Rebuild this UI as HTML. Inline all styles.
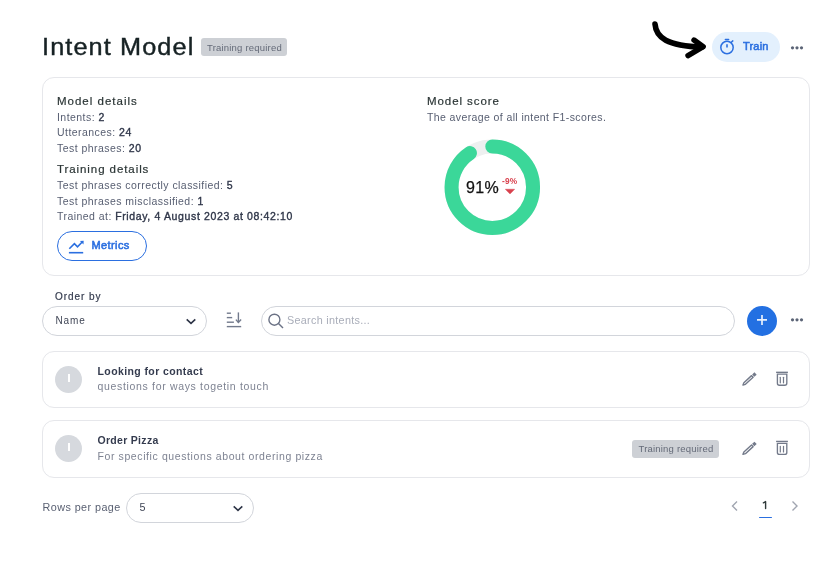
<!DOCTYPE html>
<html><head><meta charset="utf-8">
<style>
html,body{margin:0;padding:0;background:#fff;width:831px;height:566px;overflow:hidden;}
body{font-family:"Liberation Sans",sans-serif;position:relative;will-change:transform;}
.a{position:absolute;white-space:nowrap;line-height:1;}
.box{position:absolute;box-sizing:border-box;}
b{font-weight:700;}
</style></head><body>

<!-- Title -->
<div class="a" id="title" style="left:42px;top:36.3px;font-size:23px;letter-spacing:1px;color:#172224;-webkit-text-stroke:0.4px #172224;transform:scaleX(1.1);transform-origin:0 0;">Intent Model</div>
<div class="box" style="left:201px;top:38px;width:86px;height:17.5px;background:#cdd0d5;border-radius:3px;"></div>
<div class="a" style="left:207px;top:42.7px;font-size:9.5px;color:#646a78;letter-spacing:0.2px;">Training required</div>

<!-- arrow -->
<svg class="box" style="left:0;top:0" width="831" height="80" viewBox="0 0 831 80">
  <path d="M655,24 C656,37.5 667,46 702,47" fill="none" stroke="#000" stroke-width="5.6" stroke-linecap="round"/>
  <path d="M694,40 L703.2,46.7 L688,55.6" fill="none" stroke="#000" stroke-width="5.4" stroke-linecap="round" stroke-linejoin="round"/>
</svg>

<!-- Train button -->
<div class="box" style="left:712px;top:32px;width:68px;height:30px;background:#e3f0fd;border-radius:15px;"></div>
<svg class="box" style="left:718px;top:37px" width="18" height="19" viewBox="0 0 18 19">
  <circle cx="9" cy="10.5" r="6.2" fill="none" stroke="#2b6fe0" stroke-width="1.5"/>
  <line x1="7.4" y1="2.4" x2="10.6" y2="2.4" stroke="#2b6fe0" stroke-width="1.5" stroke-linecap="round"/>
  <line x1="9" y1="7.2" x2="9" y2="10.6" stroke="#2b6fe0" stroke-width="1.6"/>
  <line x1="13.3" y1="5.2" x2="14.8" y2="3.9" stroke="#2b6fe0" stroke-width="1.5" stroke-linecap="round"/>
</svg>
<div class="a" style="left:743px;top:40.7px;font-size:11px;color:#2b6fe0;letter-spacing:0.2px;-webkit-text-stroke:0.55px #2b6fe0;">Train</div>
<!-- dots top -->
<svg class="box" style="left:788px;top:44px" width="18" height="8">
  <circle cx="4.5" cy="3.8" r="1.6" fill="#5b6476"/><circle cx="9" cy="3.8" r="1.6" fill="#5b6476"/><circle cx="13.5" cy="3.8" r="1.6" fill="#5b6476"/>
</svg>

<!-- Card -->
<div class="box" style="left:42px;top:77px;width:768px;height:199px;border:1px solid #e6e7eb;border-radius:12px;"></div>

<div class="a" style="left:57px;top:95.5px;font-size:11.5px;color:#2c3636;letter-spacing:1px;-webkit-text-stroke:0.2px #2c3636;">Model details</div>
<div class="a lab" style="left:57px;top:112.1px;">Intents: <b>2</b></div>
<div class="a lab" style="left:57px;top:127.1px;">Utterances: <b>24</b></div>
<div class="a lab" style="left:57px;top:142.9px;">Test phrases: <b>20</b></div>
<div class="a" style="left:57px;top:163.8px;font-size:11.5px;color:#2c3636;letter-spacing:0.92px;-webkit-text-stroke:0.2px #2c3636;">Training details</div>
<div class="a lab" style="left:57px;top:180.1px;">Test phrases correctly classified: <b>5</b></div>
<div class="a lab" style="left:57px;top:195.6px;">Test phrases misclassified: <b>1</b></div>
<div class="a lab" style="left:57px;top:211.1px;">Trained at: <b>Friday, 4 August 2023 at 08:42:10</b></div>
<style>.lab{font-size:10.5px;color:#575e71;letter-spacing:0.45px;}.lab b{color:#2e3548;font-weight:400;letter-spacing:0.64px;-webkit-text-stroke:0.35px #2e3548;}</style>

<!-- Metrics button -->
<div class="box" style="left:57px;top:231px;width:90px;height:30px;border:1px solid #2b6fe0;border-radius:15px;"></div>
<svg class="box" style="left:66px;top:237px" width="20" height="20" viewBox="0 0 20 20">
  <polyline points="3.3,11.8 8.4,6.6 11.5,9.8 16.2,5" fill="none" stroke="#2b6fe0" stroke-width="1.6" stroke-linejoin="miter"/>
  <polygon points="13.9,3.9 17.7,3.7 17.5,7.5" fill="#2b6fe0"/>
  <line x1="2.9" y1="15.7" x2="17.2" y2="15.7" stroke="#2b6fe0" stroke-width="1.6"/>
</svg>
<div class="a" style="left:91.5px;top:239.7px;font-size:11px;color:#2b6fe0;letter-spacing:0.4px;-webkit-text-stroke:0.55px #2b6fe0;">Metrics</div>

<!-- Model score -->
<div class="a" style="left:427px;top:95.5px;font-size:11.5px;color:#2c3636;letter-spacing:0.92px;-webkit-text-stroke:0.2px #2c3636;">Model score</div>
<div class="a lab" style="left:427px;top:112.1px;letter-spacing:0.39px;">The average of all intent F1-scores.</div>

<svg class="box" style="left:440px;top:135px" width="105" height="105" viewBox="0 0 105 105">
  <circle cx="52.3" cy="52.2" r="40.75" fill="none" stroke="#eef0f0" stroke-width="14"/>
  <circle cx="52.3" cy="52.2" r="40.75" fill="none" stroke="#3bd799" stroke-width="14" stroke-linecap="round"
    stroke-dasharray="232 1000" transform="rotate(-90 52.3 52.2)"/>
</svg>
<div class="a" style="left:466px;top:179.8px;font-size:16px;color:#121212;letter-spacing:0.4px;-webkit-text-stroke:0.25px #121212;">91%</div>
<div class="a" style="left:502px;top:177.3px;font-size:8.3px;font-weight:700;color:#d9424e;letter-spacing:0.2px;">-9%</div>
<svg class="box" style="left:505px;top:188px" width="10" height="7"><polygon points="0.3,1.2 9.7,1.2 5,5.9" fill="#d9424e" stroke="#d9424e" stroke-width="0.4" stroke-linejoin="round"/></svg>

<!-- Order by -->
<div class="a" style="left:55px;top:291.5px;font-size:10px;color:#353c4f;letter-spacing:0.95px;-webkit-text-stroke:0.2px #353c4f;">Order by</div>
<div class="box" style="left:42px;top:306px;width:165px;height:30px;border:1px solid #d2d5db;border-radius:15px;"></div>
<div class="a" style="left:55.5px;top:315.6px;font-size:10px;color:#404656;letter-spacing:0.9px;">Name</div>
<svg class="box" style="left:184px;top:316px" width="14" height="10"><polyline points="2.7,3.3 7,7.3 11.3,3.3" fill="none" stroke="#2d3446" stroke-width="1.6"/></svg>

<!-- sort icon -->
<svg class="box" style="left:224px;top:310px" width="20" height="20" viewBox="0 0 20 20">
  <g stroke="#727a8c" stroke-width="1.4" fill="none">
    <line x1="2.8" y1="3.2" x2="6.9" y2="3.2"/>
    <line x1="2.8" y1="7.6" x2="8.2" y2="7.6"/>
    <line x1="2.8" y1="12.2" x2="9.9" y2="12.2"/>
    <line x1="2.8" y1="16.6" x2="17.2" y2="16.6"/>
    <line x1="14.4" y1="2.4" x2="14.4" y2="12.5"/>
    <polyline points="11.9,9.6 14.4,12.5 17.1,9.6"/>
  </g>
</svg>

<!-- search -->
<div class="box" style="left:261px;top:306px;width:474px;height:30px;border:1px solid #d2d5db;border-radius:15px;"></div>
<svg class="box" style="left:265px;top:310px" width="22" height="22" viewBox="0 0 22 22">
  <circle cx="9.4" cy="9.7" r="5.5" fill="none" stroke="#6b7285" stroke-width="1.4"/>
  <line x1="13.5" y1="13.6" x2="18" y2="17.9" stroke="#6b7285" stroke-width="1.45"/>
</svg>
<div class="a" style="left:287px;top:315px;font-size:10.8px;color:#a9adb9;letter-spacing:0.3px;">Search intents...</div>

<!-- plus -->
<div class="box" style="left:747px;top:306px;width:30px;height:30px;background:#2370e2;border-radius:50%;"></div>
<svg class="box" style="left:747px;top:306px" width="30" height="30"><path d="M10,13.9 H20 M15,8.9 V18.9" stroke="#e8f0fc" stroke-width="1.7"/></svg>
<svg class="box" style="left:788px;top:316px" width="18" height="8">
  <circle cx="4.5" cy="3.8" r="1.6" fill="#5b6476"/><circle cx="9" cy="3.8" r="1.6" fill="#5b6476"/><circle cx="13.5" cy="3.8" r="1.6" fill="#5b6476"/>
</svg>

<!-- item 1 -->
<div class="box" style="left:42px;top:351px;width:768px;height:57px;border:1px solid #e6e7eb;border-radius:12px;"></div>
<div class="box" style="left:55px;top:366px;width:27px;height:27px;background:#d6d9de;border-radius:50%;"></div>
<div class="box" style="left:67.6px;top:373.8px;width:2.2px;height:8.2px;background:#fff;"></div>
<div class="a" style="left:97.5px;top:366px;font-size:10.5px;font-weight:700;color:#343b4e;letter-spacing:0.4px;">Looking for contact</div>
<div class="a" style="left:97.5px;top:380.7px;font-size:10.5px;color:#7e8392;letter-spacing:0.67px;">questions for ways togetin touch</div>

<!-- item 2 -->
<div class="box" style="left:42px;top:420px;width:768px;height:57.5px;border:1px solid #e6e7eb;border-radius:12px;"></div>
<div class="box" style="left:55px;top:435px;width:27px;height:27px;background:#d6d9de;border-radius:50%;"></div>
<div class="box" style="left:67.6px;top:443px;width:2.2px;height:8.2px;background:#fff;"></div>
<div class="a" style="left:97.5px;top:435px;font-size:10.5px;font-weight:700;color:#343b4e;letter-spacing:0.3px;">Order Pizza</div>
<div class="a" style="left:97.5px;top:451.2px;font-size:10.5px;color:#7e8392;letter-spacing:0.6px;">For specific questions about ordering pizza</div>
<div class="box" style="left:632px;top:440px;width:87px;height:17.5px;background:#cdd0d5;border-radius:3px;"></div>
<div class="a" style="left:638.5px;top:444.2px;font-size:9.5px;color:#646a78;letter-spacing:0.2px;">Training required</div>

<!-- icons -->
<svg class="box" style="left:0;top:0" width="831" height="566" viewBox="0 0 831 566">
  <defs>
    <g id="pen">
      <path d="M0.5,0 L2.8,-1.15 L13.2,-1.15 L13.2,1.15 L2.8,1.15 Z" fill="none" stroke="#737a8a" stroke-width="1.4" stroke-linejoin="round"/>
      <rect x="14.4" y="-1.6" width="3.2" height="3.2" fill="#737a8a"/>
    </g>
    <g id="trash">
      <rect x="0.2" y="0.35" width="11.8" height="1.35" fill="#737a8a"/>
      <path d="M1.5,2.9 H10.9 V12 Q10.9,14 8.9,14 H3.5 Q1.5,14 1.5,12 Z" fill="none" stroke="#737a8a" stroke-width="1.35"/>
      <line x1="4.4" y1="6" x2="4.4" y2="11.5" stroke="#737a8a" stroke-width="1.2" stroke-linecap="round"/>
      <line x1="7.6" y1="6" x2="7.6" y2="11.5" stroke="#737a8a" stroke-width="1.2" stroke-linecap="round"/>
    </g>
  </defs>
  <use href="#pen" transform="translate(742.6,385.4) rotate(-42.5)"/>
  <use href="#trash" transform="translate(775.9,371.3)"/>
  <use href="#pen" transform="translate(742.6,454.7) rotate(-42.5)"/>
  <use href="#trash" transform="translate(775.9,440.4)"/>
</svg>

<!-- pagination -->
<div class="a" style="left:42.5px;top:502px;font-size:10.8px;color:#585f71;letter-spacing:0.43px;">Rows per page</div>
<div class="box" style="left:126px;top:493px;width:128px;height:30px;border:1px solid #d2d5db;border-radius:15px;"></div>
<div class="a" style="left:139.5px;top:502px;font-size:10.8px;color:#404656;">5</div>
<svg class="box" style="left:231px;top:503px" width="14" height="10"><polyline points="2.7,3.3 7,7.3 11.3,3.3" fill="none" stroke="#2d3446" stroke-width="1.6"/></svg>

<svg class="box" style="left:728px;top:498px" width="14" height="16"><polyline points="9,3.5 4.5,8 9,12.5" fill="none" stroke="#a0a5b0" stroke-width="1.4"/></svg>
<svg class="box" style="left:757px;top:497px" width="18" height="16"><path d="M8.6,4.6 V11.5 M6.4,5.8 L8.6,4.6" fill="none" stroke="#303a3a" stroke-width="1.4" stroke-linecap="round"/></svg>
<div class="box" style="left:759px;top:516.8px;width:13px;height:1.3px;background:#2a6fe0;border-radius:1px;"></div>
<svg class="box" style="left:788px;top:498px" width="14" height="16"><polyline points="4.5,3.5 9,8 4.5,12.5" fill="none" stroke="#a0a5b0" stroke-width="1.4"/></svg>

</body></html>
